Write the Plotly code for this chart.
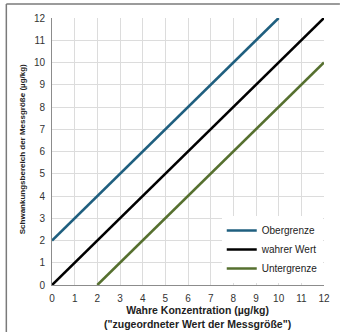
import plotly.graph_objects as go

# Data
ober_x = [0, 10]
ober_y = [2, 12]
wahr_x = [0, 12]
wahr_y = [0, 12]
unter_x = [2, 12]
unter_y = [0, 10]
tick_vals = list(range(0, 13))
series_names = ["Obergrenze", "wahrer Wert", "Untergrenze"]

FONT = "Arial, Liberation Sans, sans-serif"

L, R, T, B = 52, 16, 18, 47
FW, FH = 342, 332
W = FW - L - R
H = FH - T - B


def px(xp):
    return (xp - L) / W


def py(yp):
    return (FH - B - yp) / H


fig = go.Figure()
fig.add_trace(go.Scatter(x=ober_x, y=ober_y, mode="lines", name=series_names[0],
                         line=dict(color="#1f5f7f", width=2.6)))
fig.add_trace(go.Scatter(x=wahr_x, y=wahr_y, mode="lines", name=series_names[1],
                         line=dict(color="#000000", width=2.6)))
fig.add_trace(go.Scatter(x=unter_x, y=unter_y, mode="lines", name=series_names[2],
                         line=dict(color="#56702f", width=2.6)))

axis_common = dict(
    range=[0, 12], tickvals=tick_vals, showgrid=True, gridcolor="#dcdcdc", gridwidth=1,
    showline=True, linecolor="#8c8c8c", linewidth=1, zeroline=False,
    tickfont=dict(family=FONT, size=10, color="#333333"), ticks="",
    ticklabelstandoff=4,
)

fig.update_layout(
    width=FW, height=FH,
    margin=dict(l=L, r=R, t=T, b=B),
    paper_bgcolor="white", plot_bgcolor="white",
    font=dict(family=FONT, size=10, color="#222222"),
    xaxis=dict(**axis_common),
    yaxis=dict(**axis_common),
    legend=dict(x=px(223), y=py(216), xanchor="left", yanchor="top", bgcolor="white",
                font=dict(family=FONT, size=10, color="#222222"),
                tracegroupgap=0, itemwidth=30),
    showlegend=True,
    annotations=[
        dict(text="<b>Wahre Konzentration (µg/kg)</b><br><b>(\"zugeordneter Wert der Messgröße\")</b>",
             x=px(199), y=py(317), xref="paper", yref="paper", showarrow=False,
             xanchor="center", yanchor="middle",
             font=dict(family=FONT, size=10.5, color="#222222")),
        dict(text="<b>Schwankungsbereich der Messgröße (µg/kg)</b>",
             x=px(22), y=py(149), xref="paper", yref="paper", showarrow=False,
             xanchor="center", yanchor="middle", textangle=-90,
             font=dict(family=FONT, size=8, color="#222222")),
    ],
)

# outer frame (top and left edges visible)
fig.add_shape(type="line", xref="paper", yref="paper",
              x0=px(6), x1=px(342), y0=py(4), y1=py(4),
              line=dict(color="#7a7a7a", width=1.5))
fig.add_shape(type="line", xref="paper", yref="paper",
              x0=px(6), x1=px(6), y0=py(4), y1=py(332),
              line=dict(color="#7a7a7a", width=1.5))

fig.write_html("out.html", config={"displayModeBar": False},
               post_script="document.body.style.margin='0';document.body.style.overflow='hidden';")
